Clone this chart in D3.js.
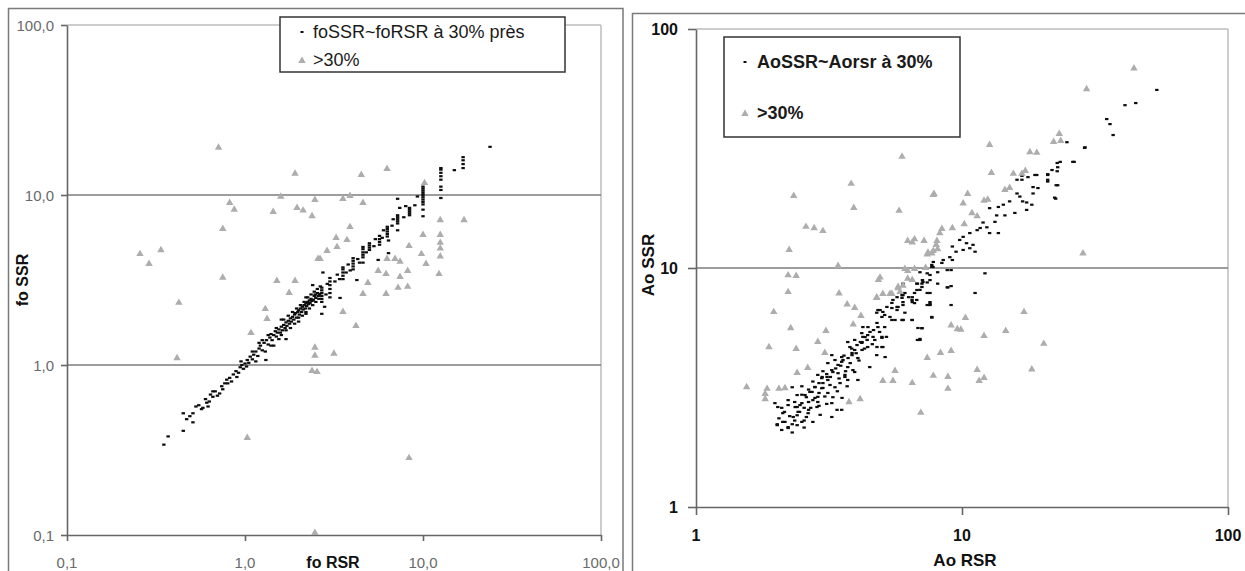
<!DOCTYPE html>
<html><head><meta charset="utf-8">
<script src="https://cdn.jsdelivr.net/npm/d3@7"></script>
<style>
body{margin:0;background:#fff;}
svg text{font-family:"Liberation Sans",Arial,sans-serif;}
</style>
</head><body>
<svg id="c" width="1245" height="571"></svg>
<script>
// ---------- DATA ----------
const leftTicks = [0.1, 1, 10, 100];
const leftTickLabels = ["0,1", "1,0", "10,0", "100,0"];
const rightTicks = [1, 10, 100];
const rightTickLabels = ["1", "10", "100"];
const leftLegend = ["foSSR~foRSR à 30% près", ">30%"];
const rightLegend = ["AoSSR~Aorsr à 30%", ">30%"];
const leftAxisTitles = ["fo RSR", "fo SSR"];
const rightAxisTitles = ["Ao RSR", "Ao SSR"];

// fo: [RSR, SSR] within 30%
const foNear = [
[0.35,0.34],[0.37,0.38],[0.45,0.41],[0.45,0.52],[0.51,0.52],[0.51,0.46],[0.49,0.50],[0.58,0.56],[0.61,0.60],[0.66,0.65],[0.72,0.68],
[0.55,0.58],[0.57,0.55],[0.60,0.63],[0.63,0.61],[0.64,0.67],[0.68,0.70],[0.70,0.66],[0.74,0.75],[0.77,0.78],[0.79,0.82],[0.82,0.84],
[0.84,0.80],[0.86,0.88],[0.89,0.92],[0.92,0.90],[0.94,0.97],[0.96,1.00],[0.98,0.95],[1.00,1.02],[1.02,0.98],[1.03,1.07],[1.05,1.03],
[1.07,1.12],[1.10,1.08],[1.12,1.15],[1.15,1.20],[1.18,1.13],[1.20,1.25],[1.22,1.30],[1.25,1.22],[1.31,1.07],[1.28,1.35],[1.32,1.40],
[1.35,1.32],[1.38,1.45],[1.40,1.52],[1.42,1.40],[1.45,1.30],[1.45,1.50],[1.48,1.58],[1.50,1.47],[1.52,1.55],[1.55,1.62],[1.58,1.55],
[1.60,1.68],[1.60,1.85],[1.62,1.60],[1.65,1.72],[1.68,1.65],[1.70,1.42],[1.70,1.78],[1.72,1.70],[1.75,1.82],[1.78,1.75],[1.80,1.88],
[1.82,1.80],[1.85,1.92],[1.88,1.85],[1.90,1.98],[1.92,2.02],[1.95,1.90],[1.98,2.05],[2.00,2.10],[2.00,1.80],[2.02,1.98],[2.05,2.15],
[2.08,2.05],[2.10,2.20],[2.12,2.12],[2.15,2.25],[2.18,2.15],[2.20,2.30],[2.20,2.50],[2.22,2.22],[2.25,2.35],[2.28,2.28],[2.30,2.40],
[2.32,2.32],[2.35,2.45],[2.38,2.38],[2.40,2.95],[2.42,2.42],[2.45,2.55],[2.48,2.60],[2.50,2.48],[2.55,2.65],[2.58,2.55],[2.62,2.62],
[2.80,2.20],[2.70,2.00],[2.74,3.50],
[1.15,1.05],[1.20,1.35],[1.30,1.20],[1.35,1.50],[1.40,1.30],[1.50,1.65],[1.55,1.42],[1.60,1.50],[1.65,1.85],[1.70,1.60],[1.75,1.95],
[1.80,1.65],[1.85,2.05],[1.90,1.75],[1.95,2.15],[2.00,1.90],[2.05,2.25],[2.10,1.95],[2.15,2.35],[2.20,2.05],[2.25,2.50],[2.30,2.15],
[2.35,2.60],[2.40,2.25],[2.45,2.70],[2.50,2.35],[2.55,2.80],[2.60,2.45],[2.65,2.90],[2.20,2.00],[1.25,1.40],[1.10,1.20],[0.95,1.05],
[0.90,0.85],[0.80,0.78],[0.75,0.72],[0.66,0.70],[0.62,0.57],[0.53,0.57],[0.47,0.48],
[2.90,3.00],[2.85,2.60],[3.20,3.10],[3.30,3.40],[3.40,3.20],[3.70,3.50],[3.80,3.90],[3.90,3.60],[4.30,4.20],[4.40,4.00],[4.80,4.60],
[5.30,5.00],[5.40,5.50],[5.90,5.60],[6.00,6.20],[6.70,6.60],[6.80,7.20],[7.80,7.40],[8.00,8.60],[9.00,8.70],[9.30,9.80],
[2.70,2.35],[2.70,2.45],[2.70,2.55],[2.70,2.65],[2.70,2.75],[2.70,2.85],
[3.00,2.50],[3.00,2.65],[3.00,2.80],[3.00,2.95],[3.00,3.10],[3.00,3.25],
[3.55,3.20],[3.55,3.35],[3.55,3.50],[3.55,3.65],[3.55,3.75],[3.42,2.48],
[4.05,3.65],[4.05,3.80],[4.05,3.95],[4.05,4.10],[4.05,4.25],[4.25,3.16],
[4.60,4.30],[4.60,4.45],[4.60,4.60],[4.60,4.80],[4.60,4.95],[4.60,4.00],
[5.00,4.75],[5.00,4.90],[5.00,5.05],[5.00,5.20],[5.60,4.15],
[5.70,5.10],[5.70,5.30],[5.70,5.50],[5.70,5.75],
[6.30,5.70],[6.30,5.90],[6.30,6.10],[6.30,6.30],[6.30,6.50],[6.40,5.40],[6.40,4.55],
[7.20,6.80],[7.20,7.00],[7.20,7.20],[7.20,7.40],[7.20,7.60],[7.20,6.20],[7.20,9.50],[7.40,8.40],
[8.40,7.60],[8.40,7.80],[8.40,8.00],[8.40,8.20],[8.40,8.40],
[10.0,7.5],[10.0,8.2],[10.0,8.8],[10.0,9.1],[10.0,9.4],[10.0,9.7],[10.0,10.0],[10.0,10.3],[10.0,10.6],[10.0,10.9],[10.0,11.2],
[12.6,9.6],[12.6,10.7],[12.6,11.2],[12.6,12.3],[12.6,12.9],[12.6,13.5],[12.6,14.1],[12.6,14.4],
[15.0,14.0],[16.8,14.4],[16.8,15.2],[16.8,16.0],[16.8,16.7],[23.8,19.2]
];
// fo: differences > 30%
const foFar = [
[0.71,19.2],[1.91,13.5],[1.59,9.9],[2.47,9.47],[0.82,9.1],[0.87,8.3],[1.44,8.05],[1.96,8.5],[2.38,7.6],[2.12,8.2],[0.75,6.4],
[0.257,4.55],[0.337,4.8],[0.289,3.98],[0.75,3.3],[1.51,3.16],[1.91,3.16],[2.57,4.26],[0.425,2.35],[0.415,1.11],[1.77,2.69],
[1.30,2.16],[1.33,1.89],[1.08,1.56],[1.03,0.377],[2.47,1.28],[2.47,1.15],[2.38,0.935],[2.54,0.92],[2.47,0.104],[4.9,3.08],
[4.6,2.65],[6.2,2.65],[7.24,2.88],[8.2,2.92],[3.55,2.08],[4.2,1.72],[3.16,1.18],[8.35,0.287],[4.5,13.3],[6.28,14.4],[3.89,10.0],
[3.55,9.6],[4.6,9.1],[10.2,11.9],[3.89,6.56],[3.25,5.66],[3.74,5.5],[3.29,5.0],[2.89,4.75],[2.64,4.26],[12.5,7.2],[17.0,7.2],
[10.0,5.9],[8.35,5.07],[12.5,5.9],[12.5,5.3],[12.5,4.9],[12.5,4.4],[9.8,4.55],[10.4,3.98],[6.28,4.26],[6.96,4.26],[7.43,4.1],
[5.6,3.62],[6.2,3.47],[7.43,3.34],[8.2,3.62],[12.3,3.47]
];
// Ao: [RSR, SSR] within 30%
const aoNear = [
[2.02,2.2],[2.22,2.14],[2.16,2.27],[2.3,2.22],[2.4,2.42],[2.6,2.38],[2.1,2.6],[2.22,2.67],[2.36,2.62],[2.46,2.67],[1.98,2.72],[2.22,2.8],
[2.4,2.94],[2.6,2.88],[2.8,2.86],[2.73,3.03],[2.87,2.75],[3.24,2.38],[3.53,2.55],[2.97,3.14],[3.13,3.0],[3.27,2.88],[2.8,3.17],[2.5,3.2],
[2.3,3.17],[2.97,3.46],[3.13,3.4],[3.33,3.17],[2.87,3.57],[3.24,3.74],[3.42,3.63],[3.63,3.5],[3.72,3.4],[3.13,4.0],[3.33,4.12],[3.53,4.05],
[3.72,3.85],[3.95,3.67],[3.24,4.32],[3.53,4.24],[3.86,4.32],[3.95,4.54],[3.72,4.9],[3.95,5.0],[4.2,4.86],[4.42,4.67],[4.2,5.34],[4.42,5.24],
[4.7,5.0],[5.0,5.15],[5.0,4.67],[4.83,5.66],[5.12,5.66],[5.45,6.06],[5.12,6.36],[4.83,6.67],[5.45,6.8],[5.75,6.87],[6.1,6.5],[5.95,7.7],
[6.3,7.55],[6.63,7.86],[7.07,8.33],[6.8,5.0],[7.07,5.6],[5.95,6.06],[6.1,7.86],[6.63,7.13],[7.58,7.0],
[2.02,2.22],[2.12,2.27],[2.22,2.16],[2.32,2.38],[2.40,2.62],[2.50,2.72],[2.57,2.94],[2.68,3.03],[2.75,2.80],[2.87,2.89],[3.0,3.15],
[3.19,3.24],[3.11,3.50],[3.27,3.67],[3.42,3.93],[3.57,4.12],[3.73,4.2],[3.86,4.41],[3.79,4.67],[4.03,4.76],[4.21,4.9],[4.32,5.14],
[4.51,5.4],[4.43,5.66],[4.79,5.89],[5.0,6.24],[4.92,6.67],[5.22,6.87],[5.45,7.14],[5.7,6.67],[6.0,7.2],[6.49,7.35],[6.77,8.09],
[7.13,8.74],[7.58,9.35],[7.78,10.1],[2.64,2.47],[2.85,2.62],[2.42,2.5],[2.80,3.18],[2.98,3.5],[3.63,3.57],[3.89,3.74],[3.48,3.3],
[4.06,4.2],[4.21,4.54],[4.79,4.67],[5.14,4.24],[5.0,5.1],[5.6,6.06],[6.0,6.06],[6.49,6.06],[6.95,5.0],[6.83,5.61],[7.58,7.2],
[3.24,2.72],[3.54,2.86],[3.39,2.55],[2.93,2.43],[2.75,2.27],[2.5,2.27],[2.03,2.62],[2.12,2.47],
[2.05,2.35],[2.15,2.5],[2.25,2.4],[2.35,2.3],[2.45,2.5],[2.55,2.6],[2.65,2.75],[2.7,2.6],[2.9,3.0],[3.05,2.9],[3.0,3.3],[3.1,3.6],
[3.2,3.5],[3.35,3.8],[3.45,3.45],[3.5,3.9],[3.6,4.3],[3.65,3.7],[3.8,4.0],[3.85,4.6],[4.0,4.4],[4.1,4.1],[4.15,4.9],[4.3,4.6],
[4.4,5.0],[4.6,4.8],[4.65,5.5],[4.9,5.4],[2.55,2.3],[2.65,2.55],[2.9,2.65],[3.1,2.7],[3.4,3.05],[3.7,3.2],[2.35,2.75],[2.5,2.95],
[2.65,3.1],[2.75,3.35],[2.9,3.3],[3.0,3.7],[2.4,2.2],[2.3,2.05],[2.1,2.1],[2.55,2.15],
[4.06,3.4],[4.5,3.85],[4.78,4.32],[5.04,4.67],[5.2,5.15],[4.63,5.15],[4.24,5.15],[4.24,5.66],[4.78,6.5],[5.04,6.55],[5.36,6.24],
[5.7,6.87],[6.0,7.0],[6.0,6.06],[6.5,6.06],[5.5,7.35],[5.7,7.55],[6.0,7.7],[6.5,7.2],[6.76,7.35],[7.07,5.6],[6.95,5.05],[7.4,7.0],
[7.58,7.86],[7.07,8.6],[6.76,8.6],[7.58,8.9],[7.7,6.2],[7.7,10.3],
[24.8,33.6],[28.9,31.8],[26.1,27.8],[23.4,27.8],[22.9,26.4],[21.8,25.7],[21.0,24.5],[21.0,23.4],[22.9,22.2],[22.3,19.7],[19.1,24.5],
[17.7,24.0],[16.8,23.4],[18.5,21.8],[19.3,21.6],[18.5,20.5],[16.1,20.5],[16.5,19.9],[16.9,19.0],[18.3,18.4],[17.5,17.5],[15.8,17.0],
[15.1,19.0],[14.3,18.4],[13.7,18.0],[14.5,16.6],[13.5,16.6],[13.3,15.6],[12.7,17.8],[12.0,15.5],[12.4,14.8],[13.7,14.0],[12.7,14.0],
[11.7,14.7],[11.4,14.4],[10.7,14.0],[10.1,13.5],[9.8,13.1],[10.4,12.7],[11.0,12.5],[10.7,12.1],[11.2,11.7],[9.2,12.3],[9.5,11.7],
[10.1,11.9],[9.0,11.1],[9.2,10.8],[8.5,10.8],[8.4,10.5],[7.8,10.6],[7.7,10.1],[8.1,9.6],[8.8,9.8],[9.1,9.8],[7.4,9.5],[6.95,9.6],
[7.1,8.9],[6.8,8.6],[7.4,8.7],[8.1,8.6],[8.8,8.3],[7.4,7.86],[6.95,8.1],[12.2,9.5],[11.2,7.86],[6.0,8.6],[6.5,7.55],[5.95,7.5],
[54,55.6],[41,48],[45,49],[35,42],[36,40],[37,36],[29,32],[26.4,27.8],[22.8,27.5],[22.8,25.4],[22.6,22.2],[22.5,19.5],[21.0,24.7],
[21.0,23.0],[18.8,24.5],[17.5,18.8],[16.8,24.3],[16.1,23.4],
[8.85,8.3],[9.1,8.4],[7.58,7.07],[9.1,7.0],[7.7,6.24]
];
// Ao: differences > 30%
const aoFar = [
[5.95,29.5],[3.83,22.7],[2.33,20.2],[3.92,18.0],[5.8,17.5],[2.59,15.0],[2.78,14.8],[3.0,14.4],[7.8,20.4],[6.25,13.1],[6.63,13.3],
[7.2,13.1],[2.24,12.0],[3.42,10.3],[2.22,9.4],[2.38,9.35],[4.92,9.2],[6.1,10.0],[7.4,11.5],
[2.22,8.0],[3.45,7.9],[1.96,6.6],[2.27,5.65],[3.08,5.5],[2.87,4.95],[1.88,4.7],[2.38,4.63],[3.05,4.45],[2.4,3.67],[2.63,3.85],
[1.55,3.2],[1.85,3.15],[1.82,3.0],[1.82,2.85],[2.05,3.15],[2.16,3.17],[3.7,7.1],[3.95,6.87],[4.17,6.36],[3.9,5.85],[4.78,7.6],
[5.04,7.86],[5.45,7.86],[5.75,8.4],[4.14,2.85],[5.04,3.4],[5.5,3.4],[5.6,3.74],[6.5,3.33],[7.0,2.5],[7.4,4.24],[7.8,3.57],[3.76,2.77],
[17.1,6.6],[10.3,6.24],[9.1,5.8],[9.6,5.6],[9.9,5.57],[14.6,5.5],[12.1,5.24],[20.3,4.86],[8.3,4.45],[9.1,4.54],[8.85,3.53],
[8.85,3.15],[11.4,3.78],[11.6,3.4],[12.1,3.5],[18.3,3.8],
[44.3,69],[29.4,56.5],[23.2,36.7],[22.1,34],[23.5,34.3],[12.7,33],[18.0,30.8],[19.1,30.6],[12.9,25.2],[15.6,25],[16.8,25],
[17.3,25.7],[7.85,20.6],[10.5,20.6],[10.1,18.8],[12.1,19.3],[12.5,19.5],[14.5,21.4],[15.1,21.8],[10.9,17.1],[11.4,16.6],[10.2,15.4],
[9.2,14.8],[8.4,14.7],[8.25,14.1],[8.05,13.1],[8.1,12.1],[7.45,11.7],[28.5,11.6],
[4.85,9.0],[4.78,7.55],[5.75,8.3],[6.0,8.5],[6.25,9.8],[6.63,10.0],[7.3,10.1],[6.5,12.9],[8.0,12.6],[7.8,11.9],[7.7,11.6],
[6.25,9.1],[6.5,9.0],[5.85,8.0],[5.36,7.86]
];

// ---------- DRAW ----------
const svg = d3.select("#c");
const BLACK = "#0d0d0d", GRAY = "#adadad";
const tri = d3.symbol().type(d3.symbolTriangle).size(24);

// outer frames
svg.append("rect").attr("x",8.5).attr("y",8.5).attr("width",614.5).attr("height",620)
  .attr("fill","none").attr("stroke","#7a7a7a").attr("stroke-width",1.5);
svg.append("rect").attr("x",632.5).attr("y",13.5).attr("width",700).attr("height",620)
  .attr("fill","none").attr("stroke","#7a7a7a").attr("stroke-width",1.5);

function panel(o){
  const x = d3.scaleLog().domain(o.domain).range([o.left, o.right]);
  const y = d3.scaleLog().domain(o.domain).range([o.bottom, o.top]);
  const g = svg.append("g");
  g.append("line").attr("x1",o.left).attr("x2",o.right).attr("y1",o.top).attr("y2",o.top).attr("stroke","#bdbdbd").attr("stroke-width",1.5);
  g.append("line").attr("x1",o.right).attr("x2",o.right).attr("y1",o.top).attr("y2",o.bottom).attr("stroke","#bdbdbd").attr("stroke-width",1.5);
  g.selectAll(".grid").data(o.ticks.filter(t=>t>o.domain[0] && t<o.domain[1])).join("line")
    .attr("x1",o.left).attr("x2",o.right).attr("y1",d=>y(d)).attr("y2",d=>y(d))
    .attr("stroke","#7d7d7d").attr("stroke-width",1.6);
  const ax = g.append("g").attr("transform",`translate(0,${o.bottom})`)
    .call(d3.axisBottom(x).tickValues(o.ticks).tickFormat("").tickSize(o.tick).tickSizeOuter(0));
  const ay = g.append("g").attr("transform",`translate(${o.left},0)`)
    .call(d3.axisLeft(y).tickValues(o.ticks).tickFormat("").tickSize(o.tick).tickSizeOuter(0));
  [ax,ay].forEach(a=>{a.selectAll("path,line").attr("stroke","#666").attr("stroke-width",1.6);});
  g.selectAll(".xl").data(o.ticks).join("text")
    .attr("x",d=>x(d)).attr("y",o.bottom+o.xlOff).attr("text-anchor","middle").attr("dominant-baseline","central")
    .attr("font-size",o.tickFont).attr("font-weight",o.tickWeight).attr("fill",o.tickColor)
    .text((d,i)=>o.labels[i]);
  g.selectAll(".yl").data(o.ticks).join("text")
    .attr("x",o.left-o.ylOff).attr("y",d=>y(d)).attr("text-anchor","end").attr("dominant-baseline","central")
    .attr("font-size",o.tickFont).attr("font-weight",o.tickWeight).attr("fill",o.tickColor)
    .text((d,i)=>o.labels[i]);
  g.append("text").attr("x",o.xt[0]).attr("y",o.xt[1]).attr("text-anchor","middle").attr("dominant-baseline","central")
    .attr("font-size",o.titleFont).attr("font-weight","bold").attr("fill","#111").text(o.titles[0]);
  g.append("text").attr("transform",`translate(${o.yt[0]},${o.yt[1]}) rotate(-90)`).attr("text-anchor","middle").attr("dominant-baseline","central")
    .attr("font-size",o.titleFont).attr("font-weight","bold").attr("fill","#111").text(o.titles[1]);
  g.selectAll(".near").data(o.near).join("rect")
    .attr("x",d=>x(d[0])-1.7).attr("y",d=>y(d[1])-1.1).attr("width",3.4).attr("height",2.2).attr("fill",BLACK);
  g.selectAll(".far").data(o.far).join("path")
    .attr("d",tri).attr("transform",d=>`translate(${x(d[0])},${y(d[1])+0.8})`).attr("fill",GRAY);
  const L=o.legend;
  g.append("rect").attr("x",L.x).attr("y",L.y).attr("width",L.w).attr("height",L.h)
    .attr("fill","#fff").attr("stroke","#333").attr("stroke-width",1.5);
  g.append("rect").attr("x",L.mx-1.5).attr("y",L.y1-1).attr("width",3).attr("height",2).attr("fill",BLACK);
  g.append("path").attr("d",tri).attr("transform",`translate(${L.mx},${L.y2+0.8})`).attr("fill",GRAY);
  [[L.y1,o.legTexts[0]],[L.y2,o.legTexts[1]]].forEach(([yy,t])=>{
    g.append("text").attr("x",L.tx).attr("y",yy).attr("dominant-baseline","central")
      .attr("font-size",L.font).attr("font-weight",L.weight).attr("fill","#1a1a1a").text(t);
  });
}

panel({domain:[0.1,100], left:67, right:601, top:25, bottom:535, ticks:leftTicks, labels:leftTickLabels,
  tick:6, xlOff:27, ylOff:13, tickFont:15, tickWeight:"normal", tickColor:"#6a6a6a",
  titles:leftAxisTitles, xt:[333,562], yt:[22,280], titleFont:16,
  near:foNear, far:foFar, legTexts:leftLegend,
  legend:{x:280,y:17,w:285,h:55,mx:302,tx:313,y1:32,y2:60,font:18,weight:"normal"}});

panel({domain:[1,100], left:696, right:1228, top:29, bottom:507, ticks:rightTicks, labels:rightTickLabels,
  tick:8, xlOff:28, ylOff:18, tickFont:16, tickWeight:"bold", tickColor:"#111",
  titles:rightAxisTitles, xt:[965,560], yt:[648,265], titleFont:17,
  near:aoNear, far:aoFar, legTexts:rightLegend,
  legend:{x:724,y:37,w:236,h:100,mx:745,tx:757,y1:62,y2:113,font:18,weight:"bold"}});
</script>
</body></html>
